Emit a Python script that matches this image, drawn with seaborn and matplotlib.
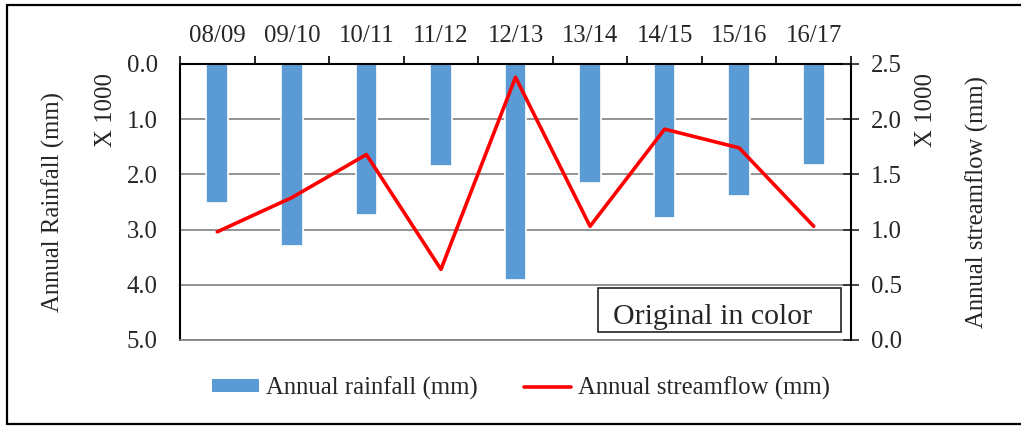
import numpy as np
import pandas as pd
import matplotlib
matplotlib.use("Agg")
import matplotlib.pyplot as plt
from matplotlib.lines import Line2D
from matplotlib.patches import Patch, Rectangle
import seaborn as sns

# Hydrological years and annual totals (thousands of mm)
seasons = ["08/09", "09/10", "10/11", "11/12", "12/13", "13/14", "14/15", "15/16", "16/17"]
rainfall_k = [2.51, 3.30, 2.74, 1.85, 3.91, 2.16, 2.79, 2.40, 1.83]
streamflow_k = [0.98, 1.29, 1.68, 0.64, 2.38, 1.03, 1.91, 1.74, 1.03]

left_ticks = [0.0, 1.0, 2.0, 3.0, 4.0, 5.0]
right_ticks = [0.0, 0.5, 1.0, 1.5, 2.0, 2.5]

bar_color = "#5B9BD5"
line_color = "#FF0000"
grid_color = "#808080"
FS = 17.8

sns.set_style("white")
plt.rcParams["font.family"] = ["Liberation Serif", "DejaVu Serif"]
plt.rcParams["font.size"] = FS

df = pd.DataFrame({"season": seasons, "rain": rainfall_k, "flow": streamflow_k,
                   "pos": np.arange(len(seasons))})

fig = plt.figure(figsize=(10.21, 4.26), dpi=100)
ax = fig.add_axes([180 / 1021, 1 - 340 / 426, (851 - 180) / 1021, (340 - 64) / 426])

# Rainfall bars hang from the top on an inverted axis
sns.barplot(data=df, x="season", y="rain", color=bar_color, width=0.29,
            saturation=1, edgecolor="white", linewidth=1.2, ax=ax, zorder=2)
ax.set_ylim(5, 0)
ax.set_xlim(-0.5, len(seasons) - 0.5)
ax.set_yticks(left_ticks)
ax.set_yticklabels([f"{v:.1f}" for v in left_ticks])
ax.set_xlabel("")
ax.set_ylabel("")
ax.yaxis.grid(True, color=grid_color, linewidth=1.2, zorder=0)
ax.set_axisbelow(True)
ax.tick_params(axis="y", length=0, pad=16, labelsize=FS)

# Category labels on top, ticks between categories
ax.xaxis.tick_top()
ax.set_xticks(np.arange(len(seasons)))
ax.set_xticklabels(seasons)
ax.tick_params(axis="x", which="major", length=0, pad=12, labelsize=FS)
ax.set_xticks(np.arange(-0.5, len(seasons)), minor=True)
ax.tick_params(axis="x", which="minor", top=True, bottom=False, length=5.5,
               width=1.2, color="black", direction="out")

for side in ["top", "left"]:
    ax.spines[side].set_color("black")
    ax.spines[side].set_linewidth(1.5)
ax.spines["bottom"].set_color(grid_color)
ax.spines["bottom"].set_linewidth(1.2)
ax.spines["right"].set_visible(False)

# Streamflow line on the secondary axis
ax2 = ax.twinx()
sns.lineplot(data=df, x="pos", y="flow", color=line_color, linewidth=2.6, ax=ax2)
ax2.set_ylim(0, 2.5)
ax2.set_yticks(right_ticks)
ax2.set_yticklabels([f"{v:.1f}" for v in right_ticks])
ax2.set_ylabel("")
ax2.set_xlabel("")
ax2.tick_params(axis="y", direction="inout", length=11, width=1.2, pad=9, labelsize=FS)
for side in ["top", "left", "bottom"]:
    ax2.spines[side].set_visible(False)
ax2.spines["right"].set_color("black")
ax2.spines["right"].set_linewidth(1.5)
ax2.set_xlim(-0.5, len(seasons) - 0.5)

# Axis titles
fig.text(53 / 1021, 1 - 202 / 426, "Annual Rainfall (mm)", rotation=90,
         ha="center", va="center", fontsize=FS)
fig.text(106 / 1021, 1 - 110 / 426, "X 1000", rotation=90,
         ha="center", va="center", fontsize=FS)
fig.text(926 / 1021, 1 - 110 / 426, "X 1000", rotation=90,
         ha="center", va="center", fontsize=FS)
fig.text(977 / 1021, 1 - 202 / 426, "Annual streamflow (mm)", rotation=90,
         ha="center", va="center", fontsize=FS)

# Note box
fig.add_artist(Rectangle((598 / 1021, 1 - 332 / 426), (841 - 598) / 1021, (332 - 288) / 426,
                         transform=fig.transFigure, facecolor="white",
                         edgecolor="#222222", linewidth=1.2, zorder=5))
fig.text(713 / 1021, 1 - 317 / 426, "Original in color", ha="center", va="center",
         fontsize=21.5, zorder=6)

# Legend
handles = [Patch(facecolor=bar_color, edgecolor="none"),
           Line2D([0], [0], color=line_color, linewidth=2.6)]
fig.legend(handles, ["Annual rainfall (mm)", "Annual streamflow (mm)"],
           loc="center", bbox_to_anchor=(521 / 1021, 1 - 388 / 426), ncol=2,
           frameon=False, fontsize=FS, handlelength=1.9, handleheight=0.42,
           handletextpad=0.3, columnspacing=1.85)

# Outer frame
frame_kw = dict(transform=fig.transFigure, color="black", linewidth=1.6)
fig.add_artist(Line2D([7 / 1021, 1.0], [1 - 5 / 426, 1 - 5 / 426], **frame_kw))
fig.add_artist(Line2D([7 / 1021, 7 / 1021], [1 - 5 / 426, 1 - 424 / 426], **frame_kw))
fig.add_artist(Line2D([7 / 1021, 1.0], [1 - 424 / 426, 1 - 424 / 426], **frame_kw))

fig.savefig("out.png", dpi=100, facecolor="white")
